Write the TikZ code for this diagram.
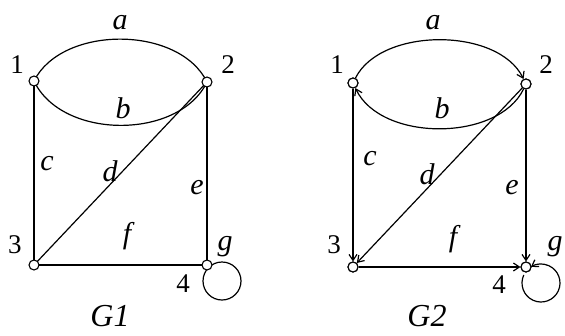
\documentclass[tikz,border=0pt]{standalone}
\usepackage{fontspec}
\setmainfont{Liberation Serif}
\usetikzlibrary{arrows.meta,calc}
\tikzset{
  vtx/.style={circle,draw,fill=white,inner sep=0pt,minimum size=10pt,line width=1.1pt},
  edge/.style={line width=1.2pt},
  darr/.style={edge,-{Straight Barb[length=6pt,width=8pt]}},
  num/.style={font=\fontsize{27}{27}\selectfont,inner sep=0pt},
  lbl/.style={font=\fontsize{30}{30}\selectfont\itshape,inner sep=0pt},
  ttl/.style={font=\fontsize{32}{32}\selectfont\itshape,inner sep=0pt}
}
\begin{document}
\begin{tikzpicture}[x=1pt,y=-1pt]
\useasboundingbox (0,0) rectangle (565,335);
% ---------- G1 ----------
\begin{scope}
\coordinate (a1) at (34,81);
\coordinate (a2) at (207,82);
\coordinate (a3) at (34,265);
\coordinate (a4) at (207,265);
\coordinate (ac) at (222,281);
\draw[edge] (a1) .. controls (62,25) and (179,25) .. (a2);
\draw[edge] (a1) .. controls (62,140) and (179,140) .. (a2);
\draw[edge] (a1) -- (a3);
\draw[edge] (a2) -- (a3);
\draw[edge] (a2) -- (a4);
\draw[edge] (a3) -- (a4);
\draw[edge] (ac) circle (19);
\node[vtx] (v1) at (a1) {};
\node[vtx] (v2) at (a2) {};
\node[vtx] (v3) at (a3) {};
\node[vtx] (v4) at (a4) {};
\node[num] (l1) at (17,65) {1};
\node[num] (l2) at (228,65) {2};
\node[num] (l3) at (15,245) {3};
\node[num] (l4) at (183,284) {4};
\node[lbl] (la) at (120,23) {a};
\node[lbl] (lb) at (123,108) {b};
\node[lbl] (lc) at (47,164) {c};
\node[lbl] (ld) at (110,171) {d};
\node[lbl] (le) at (197,188) {e};
\node[lbl] (lf) at (127,236) {f};
\node[lbl] (lg) at (225,247) {g};
\node[ttl] (t1) at (110,316) {G1};
\end{scope}
% ---------- G2 ----------
\begin{scope}
\coordinate (b1) at (353,83);
\coordinate (b2) at (526,84);
\coordinate (b3) at (353,267);
\coordinate (b4) at (526,267);
\coordinate (bc) at (541,283);
\node[vtx] (w1) at (b1) {};
\node[vtx] (w2) at (b2) {};
\node[vtx] (w3) at (b3) {};
\node[vtx] (w4) at (b4) {};
\draw[darr] (w1) .. controls (381,27) and (498,27) .. (w2);
\draw[darr] (w2) .. controls (498,142) and (381,142) .. (w1);
\draw[darr] (w1) -- (w3);
\draw[darr] (w2) -- (w3);
\draw[darr] (w2) -- (w4);
\draw[darr] (w3) -- (w4);
\draw[darr] ($(bc)+(205:19)$) arc[start angle=205,end angle=-122,radius=19];
\node[vtx] at (b1) {};
\node[vtx] at (b2) {};
\node[vtx] at (b3) {};
\node[vtx] at (b4) {};
\node[num] (m1) at (337,65) {1};
\node[num] (m2) at (546,65) {2};
\node[num] (m3) at (334,245) {3};
\node[num] (m4) at (499,285) {4};
\node[lbl] (ma) at (433,23) {a};
\node[lbl] (mb) at (442,108) {b};
\node[lbl] (mc) at (370,159) {c};
\node[lbl] (md) at (427,174) {d};
\node[lbl] (me) at (512,188) {e};
\node[lbl] (mf) at (453,239) {f};
\node[lbl] (mg) at (555,247) {g};
\node[ttl] (t2) at (427,316) {G2};
\end{scope}
\end{tikzpicture}
\end{document}
